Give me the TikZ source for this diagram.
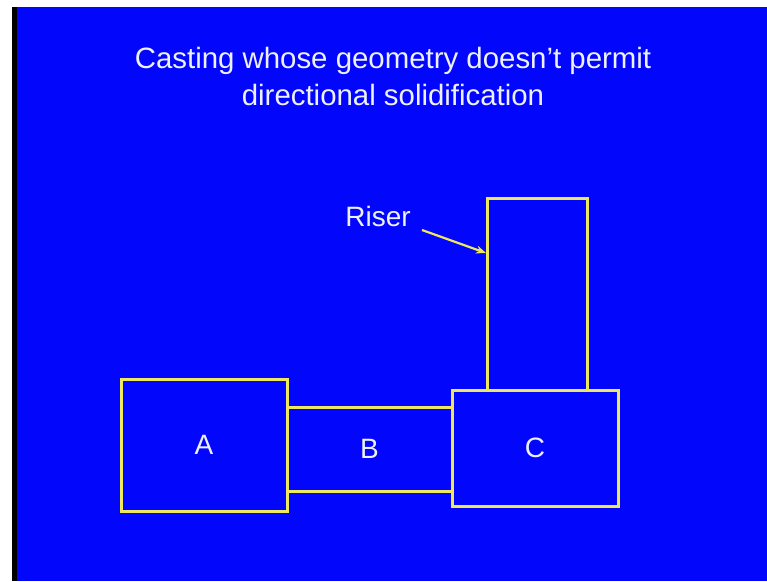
\documentclass[tikz,border=0pt]{standalone}
\usepackage{fontspec}
\setmainfont{Liberation Sans}
\usetikzlibrary{arrows.meta}
\definecolor{slideblue}{RGB}{2,6,250}
\definecolor{edgeyellow}{RGB}{238,232,96}
\definecolor{txt}{RGB}{236,240,255}
\begin{document}
\begin{tikzpicture}[x=1pt,y=-1pt,
  part/.style={draw=edgeyellow,line width=3pt,inner sep=0pt,text=txt,
    font=\fontsize{28}{34}\selectfont},
  lbl/.style={text=txt,inner sep=0pt,anchor=base,font=\fontsize{28}{34}\selectfont},
  ttl/.style={lbl,font=\fontsize{29.4}{35}\selectfont},
  arr/.style={draw=edgeyellow,line width=2.2pt,-{Stealth[length=10pt,width=8pt]}}]
\useasboundingbox (0,0) rectangle (767,581);
\fill[white] (0,0) rectangle (767,581);
\fill[black] (12,7) rectangle (17,581);
\fill[slideblue] (17,7) rectangle (767,581);
\node[ttl] (t1) at (393,68) {Casting whose geometry doesn’t permit};
\node[ttl] (t2) at (393,105) {directional solidification};
\node[part,minimum width=166pt,minimum height=132pt] (A) at (204,445) {A};
\node[part,minimum width=165pt,minimum height=84pt] (B) at (369.5,449) {B};
\node[part,minimum width=166pt,minimum height=116pt] (C) at (535,448) {C};
\node[part,minimum width=100pt,minimum height=192pt] (R) at (537,294) {};
\node[lbl] (rl) at (378,226) {Riser};
\coordinate (as) at (422,230);
\coordinate (ae) at (486,253);
\draw[arr] (as) -- (ae);
\end{tikzpicture}
\end{document}
